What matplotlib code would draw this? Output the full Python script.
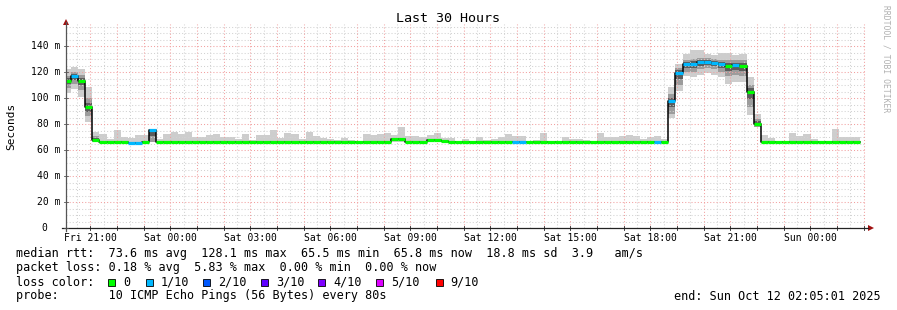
import matplotlib
matplotlib.use("Agg")
import matplotlib.pyplot as plt
from matplotlib.patches import Rectangle
from matplotlib.lines import Line2D

W, H = 897, 310
MONO = "DejaVu Sans Mono"

# ---------------- data ----------------
# one value per 960 s bar (first bar partial), hours from start (Fri 20:05:01)
step_s = 960
first_bar_s = 675

median = [113.3, 117.0, 113.3, 92.8, 67.7, 66.0, 65.8, 66.0, 66.0, 65.6,
          65.6, 66.0, 75.4, 66.0, 66.0, 66.0, 66.0, 66.0, 66.0, 66.0,
          66.0, 66.0, 66.0, 66.0, 66.0, 66.0, 66.0, 66.0, 66.0, 66.0,
          66.0, 66.0, 66.0, 66.0, 66.0, 66.0, 66.0, 66.0, 66.0, 66.0,
          66.0, 66.0, 66.0, 66.0, 66.0, 66.0, 68.5, 68.5, 65.8, 65.8,
          65.8, 67.7, 67.7, 66.9, 66.0, 66.0, 66.0, 66.0, 66.0, 66.0,
          66.0, 66.0, 66.0, 66.0, 66.0, 66.0, 66.0, 66.0, 66.0, 66.0,
          66.0, 66.0, 66.0, 66.0, 66.0, 66.0, 66.0, 66.0, 66.0, 66.0,
          66.0, 66.0, 66.0, 66.0, 66.0, 97.7, 119.5, 125.9, 126.2, 127.4,
          128.0, 127.0, 126.0, 124.6, 125.4, 124.6, 105.0, 80.0, 66.0, 66.0,
          66.0, 66.0, 66.0, 66.0, 66.0, 66.0, 66.0, 66.0, 66.0, 66.0,
          66.0, 66.0]

# loss per bar in tenths (0 = no loss, 1 = 1/10)
loss = [0, 1, 0, 0, 0, 0, 0, 0, 0, 1,
        1, 0, 1, 0, 0, 0, 0, 0, 0, 0,
        0, 0, 0, 0, 0, 0, 0, 0, 0, 0,
        0, 0, 0, 0, 0, 0, 0, 0, 0, 0,
        0, 0, 0, 0, 0, 0, 0, 0, 0, 0,
        0, 0, 0, 0, 0, 0, 0, 0, 0, 0,
        0, 0, 0, 1, 1, 0, 0, 0, 0, 0,
        0, 0, 0, 0, 0, 0, 0, 0, 0, 0,
        0, 0, 0, 1, 0, 1, 1, 1, 1, 1,
        1, 1, 1, 0, 1, 0, 0, 0, 0, 0,
        0, 0, 0, 0, 0, 0, 0, 0, 0, 0,
        0, 0]

smoke_lo = [104.0, 107.0, 101.0, 81.5, 66.0, 66.0, 65.8, 66.0, 66.0, 65.6,
            65.6, 66.0, 66.0, 66.0, 66.0, 66.0, 66.0, 66.0, 66.0, 66.0,
            66.0, 66.0, 66.0, 66.0, 66.0, 66.0, 66.0, 66.0, 66.0, 66.0,
            66.0, 66.0, 66.0, 66.0, 66.0, 66.0, 66.0, 66.0, 66.0, 66.0,
            66.0, 66.0, 66.0, 66.0, 66.0, 66.0, 66.0, 66.0, 65.8, 65.8,
            65.8, 66.0, 66.0, 66.0, 66.0, 66.0, 66.0, 66.0, 66.0, 66.0,
            66.0, 66.0, 66.0, 66.0, 66.0, 66.0, 66.0, 66.0, 66.0, 66.0,
            66.0, 66.0, 66.0, 66.0, 66.0, 66.0, 66.0, 66.0, 66.0, 66.0,
            66.0, 66.0, 66.0, 66.0, 66.0, 84.6, 105.6, 117.0, 116.0, 118.0,
            119.5, 117.7, 116.0, 110.8, 112.0, 112.0, 87.0, 77.7, 66.0, 66.0,
            66.0, 66.0, 66.0, 66.0, 66.0, 66.0, 66.0, 66.0, 66.0, 66.0,
            66.0, 66.0]

smoke_hi = [122.0, 124.0, 122.0, 108.7, 74.0, 72.3, 68.2, 75.4, 69.7, 68.9,
            71.5, 71.5, 76.5, 68.2, 72.3, 74.0, 72.3, 74.0, 69.7, 69.7,
            71.5, 72.3, 69.7, 69.7, 68.2, 72.3, 67.7, 71.8, 71.8, 75.4,
            69.0, 72.8, 72.0, 68.5, 73.6, 70.8, 69.2, 68.8, 67.7, 69.5,
            67.7, 66.8, 72.3, 71.8, 72.3, 73.3, 71.8, 77.9, 70.8, 70.8,
            70.3, 71.5, 73.3, 69.2, 69.2, 66.8, 68.5, 67.2, 69.7, 67.7,
            68.5, 70.3, 72.3, 70.8, 70.8, 66.4, 67.7, 73.3, 66.9, 66.9,
            70.3, 68.5, 68.5, 67.7, 66.4, 73.3, 70.3, 70.3, 70.8, 71.5,
            70.8, 68.5, 70.3, 70.8, 68.5, 108.7, 126.0, 133.8, 137.0, 137.0,
            134.0, 133.0, 135.0, 135.0, 133.0, 134.0, 116.0, 87.7, 71.5, 69.5,
            66.4, 67.2, 73.3, 70.8, 72.3, 68.2, 66.4, 67.2, 75.9, 70.3,
            70.3, 70.3]

core_lo = [108.0, 111.0, 106.0, 86.0, 66.0, 66.0, 65.8, 66.0, 66.0, 65.6,
           65.6, 66.0, 66.0, 66.0, 66.0, 66.0, 66.0, 66.0, 66.0, 66.0,
           66.0, 66.0, 66.0, 66.0, 66.0, 66.0, 66.0, 66.0, 66.0, 66.0,
           66.0, 66.0, 66.0, 66.0, 66.0, 66.0, 66.0, 66.0, 66.0, 66.0,
           66.0, 66.0, 66.0, 66.0, 66.0, 66.0, 66.0, 66.0, 65.8, 65.8,
           65.8, 66.0, 66.0, 66.0, 66.0, 66.0, 66.0, 66.0, 66.0, 66.0,
           66.0, 66.0, 66.0, 66.0, 66.0, 66.0, 66.0, 66.0, 66.0, 66.0,
           66.0, 66.0, 66.0, 66.0, 66.0, 66.0, 66.0, 66.0, 66.0, 66.0,
           66.0, 66.0, 66.0, 66.0, 66.0, 88.0, 110.0, 120.0, 120.0, 122.0,
           123.0, 122.0, 120.0, 117.0, 118.0, 117.0, 93.0, 78.0, 66.0, 66.0,
           66.0, 66.0, 66.0, 66.0, 66.0, 66.0, 66.0, 66.0, 66.0, 66.0,
           66.0, 66.0]

core_hi = [117.0, 120.0, 118.0, 100.0, 70.5, 66.8, 65.8, 66.0, 66.0, 65.6,
           65.6, 66.0, 75.0, 66.0, 66.0, 67.0, 66.0, 66.0, 67.0, 66.0,
           66.0, 66.0, 66.0, 66.0, 67.0, 66.0, 66.0, 66.0, 66.0, 66.0,
           66.0, 66.0, 66.0, 66.0, 66.0, 66.0, 66.0, 66.0, 66.0, 66.0,
           66.0, 66.0, 66.0, 66.0, 66.0, 66.0, 66.0, 66.0, 65.8, 65.8,
           65.8, 66.0, 66.0, 66.0, 66.0, 66.0, 66.0, 66.0, 66.0, 66.0,
           66.0, 66.0, 66.0, 67.0, 66.0, 66.0, 66.0, 66.0, 66.0, 66.0,
           66.0, 66.0, 66.0, 66.0, 66.0, 66.0, 66.0, 66.0, 66.0, 66.0,
           66.0, 66.0, 67.0, 66.0, 66.0, 103.0, 123.0, 129.0, 130.0, 131.0,
           131.0, 130.0, 129.0, 129.0, 129.0, 129.0, 110.0, 84.0, 66.0, 66.0,
           66.0, 66.0, 66.0, 66.0, 66.0, 66.0, 66.0, 66.0, 66.0, 66.0,
           66.0, 66.0]

xtick_labels = ["Fri 21:00", "Sat 00:00", "Sat 03:00", "Sat 06:00", "Sat 09:00",
                "Sat 12:00", "Sat 15:00", "Sat 18:00", "Sat 21:00", "Sun 00:00"]
first_tick_h = 55 / 60 - 1 / 3600       # Fri 21:00 relative to Fri 20:05:01
ytick_values = [0, 20, 40, 60, 80, 100, 120, 140]
ytick_labels = ["0", "20 m", "40 m", "60 m", "80 m", "100 m", "120 m", "140 m"]

loss_names = ["0", "1/10", "2/10", "3/10", "4/10", "5/10", "9/10"]
loss_colors = ["#00ff00", "#00b8ff", "#0059ff", "#5e00ff", "#7e00ff", "#dd00ff", "#ff0000"]

legend_lines = [
    "median rtt:  73.6 ms avg  128.1 ms max  65.5 ms min  65.8 ms now  18.8 ms sd  3.9   am/s",
    "packet loss: 0.18 % avg  5.83 % max  0.00 % min  0.00 % now",
]
probe_line = "probe:       10 ICMP Echo Pings (56 Bytes) every 80s"
end_text = "end: Sun Oct 12 02:05:01 2025"
title = "Last 30 Hours"

# ---------------- figure ----------------
fig = plt.figure(figsize=(W / 100, H / 100), dpi=100)
fig.patch.set_facecolor("white")

def fx(x):
    return x / W

def fy(y):
    return 1 - y / H

X0, X1 = 66, 866
YB = 228
YMAX = 157
px_per_unit = 1.3
YT = YB - YMAX * px_per_unit
ax = fig.add_axes([fx(X0), fy(YB), (X1 - X0) / W, (YB - YT) / H])
ax.set_xlim(0, 30)
ax.set_ylim(0, YMAX)
ax.axis("off")

n = len(median)
edges = [0.0] + [(first_bar_s + i * step_s) / 3600 for i in range(n)]
lefts = edges[:-1]
widths = [edges[i + 1] - edges[i] for i in range(n)]

# smoke
ax.bar(lefts, [h - l for h, l in zip(smoke_hi, smoke_lo)], bottom=smoke_lo,
       width=widths, align="edge", color="#cdcdcd", lw=0, zorder=1)
ax.bar(lefts, [h - l for h, l in zip(core_hi, core_lo)], bottom=core_lo,
       width=widths, align="edge", color="#9c9c9c", lw=0, zorder=2)
inner_lo = [(c + m) / 2 for c, m in zip(core_lo, median)]
inner_hi = [(c + m) / 2 for c, m in zip(core_hi, median)]
ax.bar(lefts, [h - l for h, l in zip(inner_hi, inner_lo)], bottom=inner_lo,
       width=widths, align="edge", color="#5c5c5c", lw=0, zorder=2.5)

# grid
hours = [first_tick_h - 1 + k for k in range(0, 32)]
dot = (0, (1, 2))
for k in range(5, YMAX, 5):
    if k % 20 == 0:
        continue
    ax.axhline(k, color="#d2d2d2", lw=0.75, ls=dot, zorder=3)
for h in hours:
    hh = h + 0.5
    if 0 < hh < 30:
        ax.axvline(hh, color="#d2d2d2", lw=0.75, ls=dot, zorder=3)
for k in range(20, YMAX, 20):
    ax.axhline(k, color="#f2a0a0", lw=0.75, ls=dot, zorder=3.1)
for h in hours:
    if 0 < h < 30:
        ax.axvline(h, color="#f2a0a0", lw=0.75, ls=dot, zorder=3.1)

# median line (black step) + loss-coloured segments
ax.plot(edges, median + [median[-1]], drawstyle="steps-post", color="black",
        lw=1.1, zorder=4)
ax.hlines(median, lefts, edges[1:], colors=[loss_colors[l] for l in loss],
          lw=2.3, zorder=5)

# axes lines and arrows
fig.add_artist(Line2D([fx(X0), fx(X0)], [fy(YB + 3), fy(22)], color="#555555", lw=0.9))
fig.add_artist(Line2D([fx(62), fx(868)], [fy(YB), fy(YB)], color="#222222", lw=0.9))
fig.add_artist(plt.Polygon([[fx(X0 - 3), fy(25)], [fx(X0 + 3), fy(25)], [fx(X0), fy(19)]],
                           closed=True, color="#a01010", lw=0))
fig.add_artist(plt.Polygon([[fx(868), fy(YB - 3)], [fx(868), fy(YB + 3)], [fx(874), fy(YB)]],
                           closed=True, color="#a01010", lw=0))

# tick marks
for h in hours:
    if 0 < h < 30:
        xp = X0 + h / 30 * (X1 - X0)
        fig.add_artist(Line2D([fx(xp), fx(xp)], [fy(YB - 2), fy(YB + 2)], color="#222222", lw=0.6))
for v in ytick_values:
    yp = YB - v * px_per_unit
    fig.add_artist(Line2D([fx(X0 - 2), fx(X0 + 2)], [fy(yp), fy(yp)], color="#555555", lw=0.6))

# tick labels
for i, lab in enumerate(xtick_labels):
    xp = X0 + (first_tick_h + 3 * i) / 30 * (X1 - X0)
    fig.text(fx(xp), fy(238), lab, family=MONO, fontsize=7.0, ha="center", va="center")
for v, lab in zip(ytick_values, ytick_labels):
    yp = YB - v * px_per_unit
    xr = 60 if lab.endswith("m") else 47
    fig.text(fx(xr), fy(yp), lab, family=MONO, fontsize=7.0, ha="right", va="center")

# titles
fig.text(fx(448), fy(19), title, family=MONO, fontsize=9.6, ha="center", va="center")
fig.text(fx(11), fy(126), "Seconds", family=MONO, fontsize=8.0, rotation=90,
         ha="center", va="center")
fig.text(fx(886), fy(5), "RRDTOOL / TOBI OETIKER", family=MONO, fontsize=5.8,
         rotation=-90, ha="center", va="top", color="#b0b0b0")

# legend block
LFS = 8.5
fig.text(fx(16), fy(254), legend_lines[0], family=MONO, fontsize=LFS, ha="left", va="center")
fig.text(fx(16), fy(268), legend_lines[1], family=MONO, fontsize=LFS, ha="left", va="center")
fig.text(fx(16), fy(282), "loss color:", family=MONO, fontsize=LFS, ha="left", va="center")
sq_x = [108, 146, 203, 261, 318, 376, 436]
lab_x = [123, 161, 218, 276, 333, 391, 450]
for sx, lx, name, col in zip(sq_x, lab_x, loss_names, loss_colors):
    fig.add_artist(Rectangle((fx(sx), fy(286)), 7 / W, 7 / H, facecolor=col,
                             edgecolor="black", lw=0.6))
    fig.text(fx(lx), fy(282), name, family=MONO, fontsize=LFS, ha="left", va="center")
fig.text(fx(16), fy(296), probe_line, family=MONO, fontsize=LFS, ha="left", va="center")
fig.text(fx(881), fy(296), end_text, family=MONO, fontsize=LFS, ha="right", va="center")

fig.savefig("out.png", dpi=100, facecolor="white")
